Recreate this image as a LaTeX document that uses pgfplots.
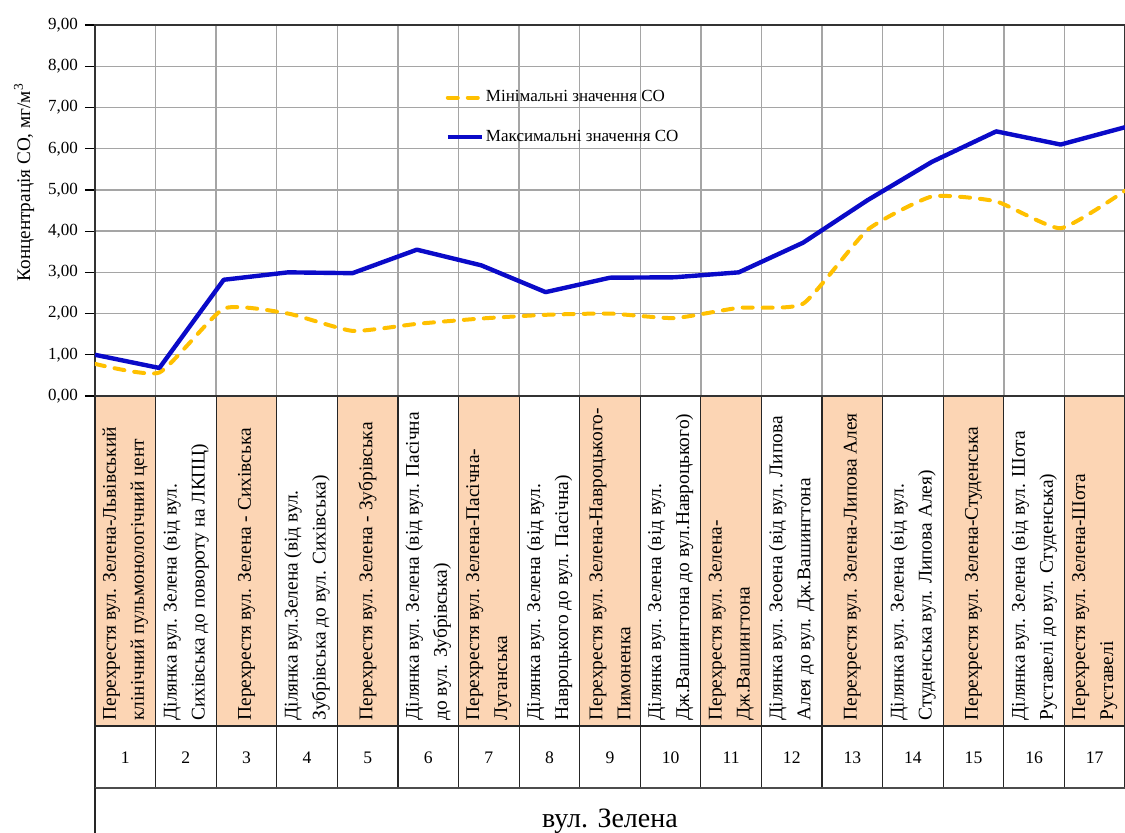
\documentclass[border=0pt]{standalone}
\usepackage{pgfplots}
\pgfplotsset{compat=1.18}
\usepackage{fontspec}
\setmainfont{Liberation Serif}
\definecolor{cblue}{RGB}{10,10,200}
\definecolor{cyel}{RGB}{255,192,0}
\definecolor{peach}{RGB}{252,213,180}
\definecolor{gridc}{RGB}{165,165,165}

\pgfplotstableread{
x maxv minv
0 1.00 0.78
1 0.68 0.57
2 2.82 2.12
3 3.00 2.00
4 2.98 1.58
5 3.55 1.75
6 3.17 1.88
7 2.52 1.97
8 2.87 2.00
9 2.88 1.89
10 3.00 2.14
11 3.72 2.24
12 4.75 4.03
13 5.68 4.84
14 6.42 4.72
15 6.10 4.07
16 6.52 4.98
}\datatab

\newcommand\cw{30.294118}
\tikzset{lab/.style={rotate=90, anchor=west, align=left, inner sep=0pt, font=\fontsize{9.7}{14}\selectfont}}
\newcommand\cell[2]{\node[lab] at ({(#1-0.5)*\cw*1pt},-162.5pt) {#2};}

\begin{document}
\begin{tikzpicture}
\begin{axis}[
  at={(0,0)}, anchor=south west,
  scale only axis, width=515pt, height=185.5pt,
  xmin=0, xmax=16, ymin=0, ymax=9,
  ytick={0,1,2,3,4,5,6,7,8,9},
  xtick={0,0.941176,1.882353,2.823529,3.764706,4.705882,5.647059,6.588235,7.529412,8.470588,9.411765,10.352941,11.294118,12.235294,13.176471,14.117647,15.058824,16},
  xticklabels={},
  xtick style={draw=none},
  ytick pos=left,
  tick align=outside,
  major tick length=5pt,
  ytick style={black, line width=0.6pt},
  grid=major,
  major grid style={gridc, line width=0.7pt},
  axis line style={black!80, line width=0.7pt},
  yticklabel style={font=\fontsize{8.5}{10}\selectfont, /pgf/number format/.cd, fixed, fixed zerofill, precision=2, use comma, assume math mode=true},
  ylabel={Концентрація СО, мг/м\textsuperscript{3}},
  ylabel style={at={(axis description cs:-0.0689,0.576)}, anchor=center, font=\fontsize{9.6}{10}\selectfont},
  legend style={at={(rel axis cs:0.34,0.83)}, anchor=north west, draw=none, fill=none, inner sep=0pt, row sep=10.5pt, font=\fontsize{8.5}{10}\selectfont, nodes={inner sep=1pt}},
  legend cell align=left,
  legend image code/.code={\draw[#1] (0pt,0pt) -- (17pt,0pt);},
]
\addplot[cyel, line width=2pt, dash pattern=on 5pt off 5pt, line cap=round, smooth, tension=0.3] table[x=x, y=minv] {\datatab};
\addlegendentry{Мінімальні значення СО}
\addplot[cblue, line width=2.2pt, line join=round] table[x=x, y=maxv] {\datatab};
\addlegendentry{Максимальні значення СО}
\end{axis}

% table below the plot
\foreach \i in {0,2,...,16} {
  \fill[peach] ({\i*\cw*1pt},0pt) rectangle ({(\i+1)*\cw*1pt},-165pt);
}
\foreach \i in {0,...,17} {
  \draw[black!85, line width=0.6pt] ({\i*\cw*1pt},0pt) -- ({\i*\cw*1pt},-196pt);
}
\draw[black!85, line width=0.6pt] (0pt,-165pt) -- (515pt,-165pt);
\draw[black!70, line width=1.3pt] (0pt,-196pt) -- (515pt,-196pt);
\draw[black!85, line width=0.6pt] (0pt,-196pt) -- (0pt,-220pt);
\draw[black!80, line width=0.7pt] (0pt,0pt) -- (515pt,0pt);

\foreach \i in {1,...,17} {
  \node[font=\fontsize{8.8}{10}\selectfont] at ({(\i-0.5)*\cw*1pt},-181pt) {\i};
}

\cell{1}{Перехрестя вул. Зелена-Львівський\\клінічний пульмонологічний цент}
\cell{2}{Ділянка вул. Зелена (від вул.\\Сихівська до повороту на ЛКПЦ)}
\cell{3}{Перехрестя вул. Зелена - Сихівська}
\cell{4}{Ділянка вул.Зелена (від вул.\\Зубрівська до вул. Сихівська)}
\cell{5}{Перехрестя вул. Зелена - Зубрівська}
\cell{6}{Ділянка вул. Зелена (від вул. Пасічна\\до вул. Зубрівська)}
\cell{7}{Перехрестя вул. Зелена-Пасічна-\\Луганська}
\cell{8}{Ділянка вул. Зелена (від вул.\\Навроцького до вул. Пасічна)}
\cell{9}{Перехрестя вул. Зелена-Навроцького-\\Пимоненка}
\cell{10}{Ділянка вул. Зелена (від вул.\\Дж.Вашингтона до вул.Навроцького)}
\cell{11}{Перехрестя вул. Зелена-\\Дж.Вашингтона}
\cell{12}{Ділянка вул. Зеоена (від вул. Липова\\Алея до вул. Дж.Вашингтона}
\cell{13}{Перехрестя вул. Зелена-Липова Алея}
\cell{14}{Ділянка вул. Зелена (від вул.\\Студенська вул. Липова Алея)}
\cell{15}{Перехрестя вул. Зелена-Студенська}
\cell{16}{Ділянка вул. Зелена (від вул. Шота\\Руставелі до вул. Студенська)}
\cell{17}{Перехрестя вул. Зелена-Шота\\Руставелі}

\node[anchor=base, font=\fontsize{14}{16}\selectfont] at (257.5pt,-215.5pt) {вул. Зелена};

\pgfresetboundingbox
\path[use as bounding box] (-47.5pt,-218pt) rectangle (515pt,198pt);
\end{tikzpicture}
\end{document}
